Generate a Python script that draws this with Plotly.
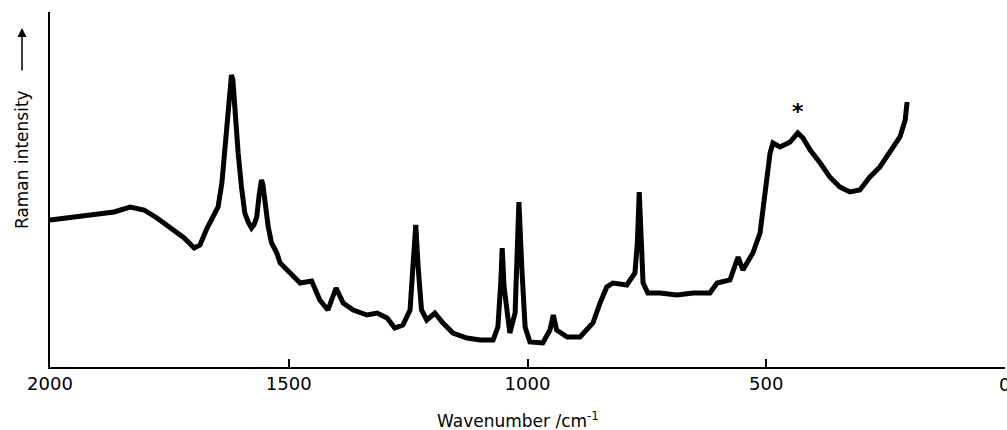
import plotly.graph_objects as go

# Wavenumber (cm^-1) and Raman intensity (arbitrary units)
wavenumber = [2000, 1964, 1937, 1901, 1866, 1832, 1803, 1776, 1749, 1719, 1698, 1686, 1671, 1654,
              1648, 1640, 1637, 1630, 1625, 1620, 1617, 1613, 1606, 1599, 1592, 1585, 1578, 1573,
              1567, 1562, 1557, 1554, 1550, 1543, 1536, 1525, 1518, 1497, 1476, 1452, 1435, 1418,
              1401, 1386, 1365, 1336, 1315, 1294, 1278, 1261, 1246, 1240, 1234, 1229, 1222, 1211,
              1194, 1177, 1156, 1127, 1099, 1072, 1062, 1056, 1053, 1049, 1044, 1037, 1026, 1021,
              1018, 1012, 1005, 995, 968, 953, 946, 939, 917, 890, 863, 848, 834, 821, 792, 775,
              770, 766, 762, 758, 748, 723, 687, 653, 618, 603, 576, 559, 549, 528, 513, 503, 492,
              486, 471, 450, 434, 423, 408, 387, 367, 346, 325, 304, 283, 262, 241, 220, 209, 205]
intensity = [147, 149, 150, 152, 155, 160, 157, 149, 139, 129, 119, 122, 139, 155,
             160, 184, 200, 247, 277, 292, 287, 257, 214, 180, 154, 145, 139, 142,
             150, 172, 187, 182, 167, 140, 124, 114, 104, 94, 84, 86, 67, 57,
             79, 64, 57, 52, 54, 49, 39, 42, 57, 100, 142, 100, 57, 47,
             54, 44, 34, 29, 27, 27, 40, 84, 119, 80, 60, 34, 54, 117,
             165, 100, 40, 25, 24, 37, 52, 37, 30, 30, 44, 64, 80, 84, 82, 94,
             124, 175, 120, 84, 74, 74, 72, 74, 74, 84, 87, 110, 97, 114, 134, 177, 214,
             224, 220, 225, 234, 229, 217, 204, 190, 180, 175, 177, 190, 200, 214, 230, 247, 265]

x_ticks = [2000, 1500, 1000, 500, 0]
x_ticklabels = ["2000", "1500", "1000", "500", "0"]

FONT = "DejaVu Sans"

fig = go.Figure()
fig.add_trace(go.Scatter(x=wavenumber, y=intensity, mode="lines",
                         line=dict(color="black", width=5), hoverinfo="skip",
                         showlegend=False))

# the last tick label sits on the page edge; draw it as an annotation so it is not dropped
shown_ticktext = x_ticklabels[:-1] + [""]

annotations = [
    dict(text="<b>*</b>", x=434, y=256, xref="x", yref="y", showarrow=False,
         font=dict(family=FONT, size=22, color="black")),
    dict(text="Raman intensity", x=-0.0293, y=0.583, xref="paper", yref="paper",
         textangle=-90, showarrow=False, xanchor="center", yanchor="middle",
         font=dict(family=FONT, size=17, color="black")),
    dict(text="", x=-0.0293, y=0.955, xref="paper", yref="paper",
         showarrow=True, ax=0, ay=44, arrowhead=2, arrowsize=1.2, arrowwidth=1.5,
         arrowcolor="black"),
    dict(text="Wavenumber /cm<sup>-1</sup>", x=0.49, y=-0.149, xref="paper", yref="paper",
         showarrow=False, xanchor="center", yanchor="middle",
         font=dict(family=FONT, size=17, color="black")),
    dict(text=x_ticklabels[-1], x=x_ticks[-1], y=-0.05, xref="x", yref="paper",
         showarrow=False, xanchor="center", yanchor="middle", xshift=-1,
         font=dict(family=FONT, size=18, color="black")),
]

fig.update_layout(
    width=1007, height=430,
    margin=dict(l=50, r=2, t=12, b=63),
    paper_bgcolor="white", plot_bgcolor="white",
    font=dict(family=FONT, size=18, color="black"),
    xaxis=dict(range=[2000, 0], tickvals=x_ticks, ticktext=shown_ticktext,
               ticks="inside", ticklen=8, tickwidth=1.5, tickcolor="black",
               showline=True, linecolor="black", linewidth=1.5,
               showgrid=False, zeroline=False, automargin=False,
               tickfont=dict(family=FONT, size=18, color="black")),
    yaxis=dict(range=[0, 355], showline=True, linecolor="black", linewidth=1.5,
               showticklabels=False, ticks="", showgrid=False, zeroline=False,
               automargin=False),
    annotations=annotations,
)

# remove the default page margin so the 1007x430 figure fills the window exactly
fig.write_html("out.html",
               config={"displayModeBar": False},
               post_script="document.body.style.margin='0';document.body.style.overflow='hidden';")
